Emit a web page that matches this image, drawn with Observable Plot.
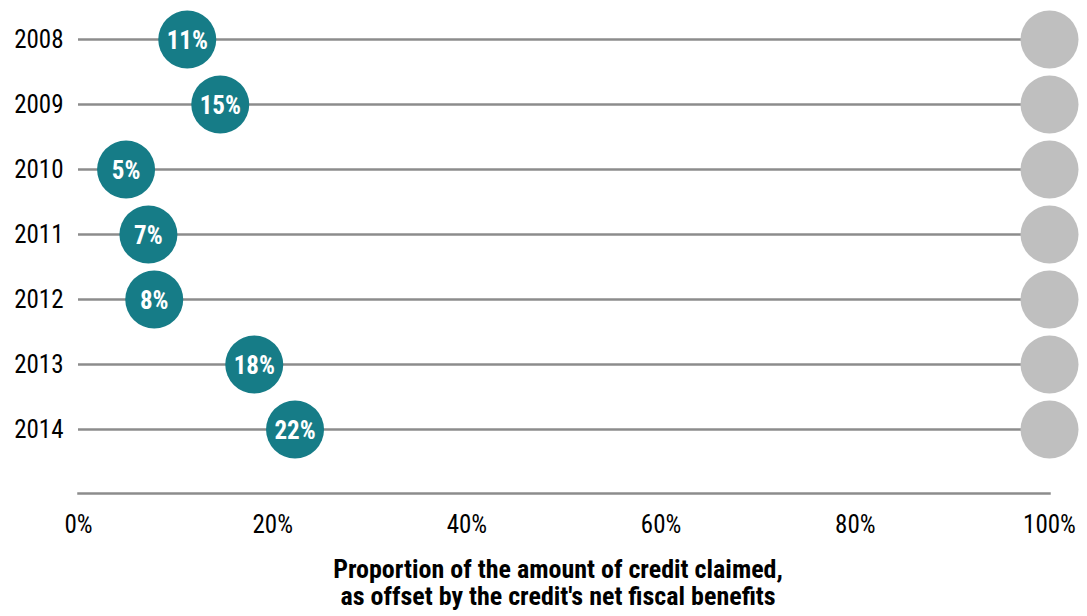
<!DOCTYPE html>
<html>
<head>
<meta charset="utf-8">
<script src="https://cdn.jsdelivr.net/npm/d3@7"></script>
<script src="https://cdn.jsdelivr.net/npm/@observablehq/plot@0.6"></script>
<style>
  html, body { margin: 0; padding: 0; background: #fff; }
  #chart { width: 1087px; height: 616px; position: relative; font-family: Roboto, sans-serif; font-stretch: 75%; }
  #chart svg, #chart svg text { font-stretch: 75%; }
  #title {
    position: absolute; left: 0; top: 556px; width: 1116px; text-align: center;
    font-family: Roboto, sans-serif; font-stretch: 75%;
    font-weight: bold; font-size: 26px; line-height: 27px; color: #000;
  }
</style>
</head>
<body>
<div id="chart"></div>
<script>
const years = ["2008", "2009", "2010", "2011", "2012", "2013", "2014"];
const shares = [0.112, 0.146, 0.049, 0.072, 0.078, 0.181, 0.223];
const fullShare = 1;
const xTicks = [0, 0.2, 0.4, 0.6, 0.8, 1];
const titleLines = ["Proportion of the amount of credit claimed,", "as offset by the credit's net fiscal benefits"];

const data = years.map((y, i) => ({year: y, share: shares[i], full: fullShare}));
const font = "Roboto, sans-serif";

const plot = Plot.plot({
  width: 1087,
  height: 545,
  marginLeft: 78,
  marginRight: 38,
  marginTop: 0,
  marginBottom: 52,
  style: {fontFamily: font, fontSize: "25px", color: "#000", background: "#fff"},
  x: {domain: [0, 1]},
  y: {type: "point", domain: years, range: [39, 429], padding: 0},
  marks: [
    Plot.ruleY(data, {y: "year", x1: 0, x2: "full", stroke: "#8c8c8c", strokeWidth: 2.5}),
    Plot.frame({anchor: "bottom", stroke: "#8c8c8c", strokeWidth: 2.5}),
    Plot.dot(data, {x: "full", y: "year", r: 29, fill: "#bfbfbf"}),
    Plot.dot(data, {x: "share", y: "year", r: 29, fill: "#167c87"}),
    Plot.text(data, {x: "share", y: "year", text: d => d3.format(".0%")(d.share), fill: "#fff", fontWeight: "bold", fontSize: 25, dy: 1}),
    Plot.axisY({tickSize: 0, tickPadding: 15, label: null, fontSize: 25}),
    Plot.axisX({ticks: xTicks, tickFormat: d3.format(".0%"), tickSize: 0, tickPadding: 22, label: null, fontSize: 25})
  ]
});
document.getElementById("chart").appendChild(plot);
const t = document.createElement("div");
t.id = "title";
t.innerHTML = titleLines.join("<br>");
document.getElementById("chart").appendChild(t);
</script>
</body>
</html>
